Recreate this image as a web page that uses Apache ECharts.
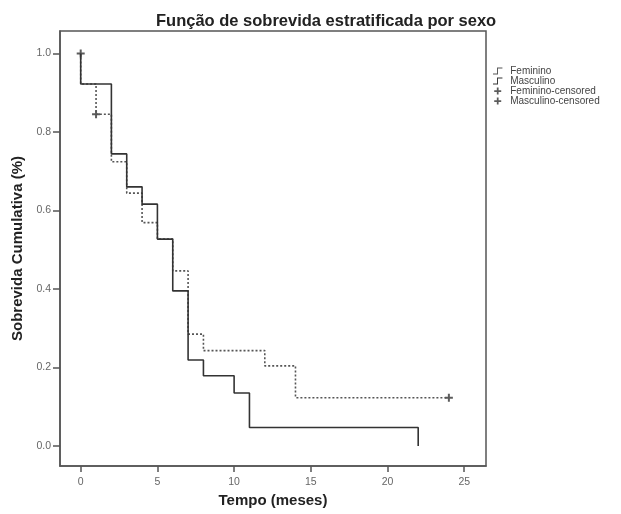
<!DOCTYPE html>
<html>
<head>
<meta charset="utf-8">
<script src="https://cdn.jsdelivr.net/npm/echarts@6/dist/echarts.min.js"></script>
<style>
  html, body { margin: 0; padding: 0; background: #fff; }
  #chart { width: 621px; height: 514px; }
</style>
</head>
<body>
<div id="chart"></div>
<script>
// Kaplan-Meier step data
const femTime = [0, 0, 1, 2, 3, 4, 5, 6, 7, 8, 12, 14, 24]
const femSurv = [1.0, 0.922, 0.845, 0.724, 0.644, 0.569, 0.527, 0.446, 0.285, 0.243, 0.204, 0.123, 0.123]
const mascTime = [0, 0, 2, 3, 4, 5, 6, 7, 8, 10, 11, 22]
const mascSurv = [1.0, 0.922, 0.744, 0.66, 0.616, 0.527, 0.395, 0.219, 0.179, 0.135, 0.047, 0.0]
const femCensTime = [1, 24]
const femCensSurv = [0.845, 0.123]
const mascCensTime = [0]
const mascCensSurv = [1.0]
const xTicks = [0, 5, 10, 15, 20, 25]
const yTicks = [0, 0.2, 0.4, 0.6, 0.8, 1.0]

const zip = (a, b) => a.map((v, i) => [v, b[i]])

const ink = '#333'
const plus = 'path://M3,0h2v3h3v2h-3v3h-2v-3h-3v-2h3z'
const stepIcon = 'path://M0,9h6v-9h8v1.4h-6.6v9h-7.4z'
const font = 'Liberation Sans'

const chart = echarts.init(document.getElementById('chart'))
chart.setOption({
  animation: false,
  title: {
    text: 'Função de sobrevida estratificada por sexo',
    left: 151,
    top: 8,
    textStyle: { fontFamily: font, fontSize: 16.5, fontWeight: 'bold', color: '#222' }
  },
  legend: {
    orient: 'vertical',
    left: 488,
    top: 61,
    itemWidth: 15,
    itemHeight: 7,
    itemGap: 0,
    textStyle: { fontFamily: font, fontSize: 10, color: '#444', lineHeight: 9 },
    data: [
      { name: 'Feminino', icon: stepIcon },
      { name: 'Masculino', icon: stepIcon },
      { name: 'Feminino-censored', icon: plus },
      { name: 'Masculino-censored', icon: plus }
    ]
  },
  grid: {
    left: 60, right: 135, top: 31, bottom: 48,
    show: true, borderColor: '#555', borderWidth: 1.5
  },
  xAxis: {
    type: 'value',
    min: -1.35,
    max: 26.42,
    name: 'Tempo (meses)',
    nameLocation: 'middle',
    nameGap: 23,
    nameTextStyle: { fontFamily: font, fontSize: 15, fontWeight: 'bold', color: '#222' },
    axisLine: { onZero: false, lineStyle: { color: '#555', width: 1.5 } },
    axisTick: { customValues: xTicks, length: 6, lineStyle: { color: '#555', width: 1.5 } },
    axisLabel: { customValues: xTicks, margin: 11, fontFamily: font, fontSize: 10.5, color: '#666' },
    splitLine: { show: false }
  },
  yAxis: {
    type: 'value',
    min: -0.051,
    max: 1.057,
    name: 'Sobrevida Cumulativa (%)',
    nameLocation: 'middle',
    nameGap: 30,
    nameTextStyle: { fontFamily: font, fontSize: 15, fontWeight: 'bold', color: '#222' },
    axisLine: { onZero: false, lineStyle: { color: '#555', width: 1.5 } },
    axisTick: { customValues: yTicks, length: 7, lineStyle: { color: '#555', width: 1.5 } },
    axisLabel: {
      customValues: yTicks, margin: 9, fontFamily: font, fontSize: 10.5, color: '#666',
      formatter: v => v.toFixed(1)
    },
    splitLine: { show: false }
  },
  series: [
    {
      name: 'Feminino', type: 'line', step: 'end', data: zip(femTime, femSurv),
      showSymbol: false, color: '#555',
      lineStyle: { color: '#555', width: 1.6, type: [2, 2] }
    },
    {
      name: 'Masculino', type: 'line', step: 'end', data: zip(mascTime, mascSurv),
      showSymbol: false, color: ink,
      lineStyle: { color: ink, width: 1.6 }
    },
    {
      name: 'Feminino-censored', type: 'scatter', data: zip(femCensTime, femCensSurv),
      symbol: plus, symbolSize: 8, color: ink
    },
    {
      name: 'Masculino-censored', type: 'scatter', data: zip(mascCensTime, mascCensSurv),
      symbol: plus, symbolSize: 8, color: ink
    }
  ]
})
</script>
</body>
</html>
